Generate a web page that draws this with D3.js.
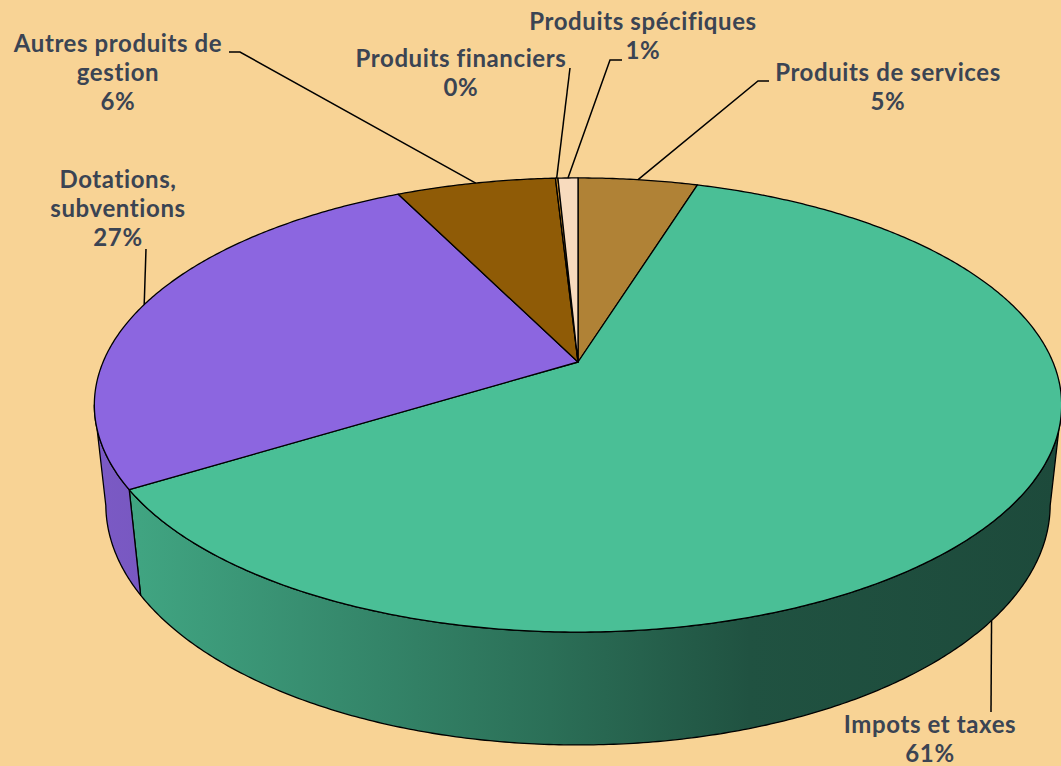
<!DOCTYPE html>
<html>
<head>
<meta charset="utf-8">
<script src="https://cdn.jsdelivr.net/npm/d3@7"></script>
<style>
  body { margin: 0; background: #F8D395; }
  svg { display: block; }
</style>
</head>
<body>
<div id="chart"></div>
<script>
// data (share of revenue, in %, clockwise from 12 o'clock)
const categories = ['Produits de services', 'Impots et taxes', 'Dotations, subventions',
    'Autres produits de gestion', 'Produits financiers', 'Produits spécifiques']
const values = [4.8, 61.4, 26.5, 6.4, 0.1, 0.8]
const labelLines = [['Produits de services'], ['Impots et taxes'], ['Dotations,', 'subventions'],
    ['Autres produits de', 'gestion'], ['Produits financiers'], ['Produits spécifiques']]
const colors = ['#B08236', '#4ABF96', '#8C66E0', '#8F5B06', '#C98A2A', '#F8DBBE']

// label placement: text centre, first baseline, leader start points
const labelPos = [
    {x: 888, y: 81, pts: [[769, 81], [758, 81]]},
    {x: 930, y: 733, pts: [[991, 712]]},
    {x: 118, y: 188, pts: [[146, 249]]},
    {x: 118, y: 52, pts: [[229, 52], [240, 52]]},
    {x: 461, y: 67, pts: [[570, 68]]},
    {x: 643, y: 30, pts: [[622, 60], [610, 60]]},
]

const width = 1061, height = 766

// perspective 3d pie
const cx = 578, cy = 362
const sinP = 0.461, cosP = 0.887
const D = 4.683, F = 2224, depthH = 0.2385

function project(t, z) {
    const x = Math.sin(t), y = Math.cos(t)
    const depth = D + y * cosP - z * sinP
    return [cx + F * x / depth, cy - F * (y * sinP + z * cosP) / depth]
}
function rim(a0, a1, z) {
    const step = Math.PI / 360
    const ts = d3.range(a0, a1, step)
    ts.push(a1)
    return ts.map(t => project(t, z))
}

const svg = d3.select('#chart').append('svg')
    .attr('width', width)
    .attr('height', height)

svg.append('rect')
    .attr('width', width)
    .attr('height', height)
    .attr('fill', '#F8D395')

const pie = d3.pie().sort(null).value(d => d)
const arcs = pie(values)
const line = d3.line()

// side shading by x position
const shade = [[93, 0.88], [140, 0.86], [300, 0.75], [550, 0.58], [750, 0.43], [1061, 0.39]]
const defs = svg.append('defs')
arcs.forEach((d, i) => {
    const base = d3.rgb(colors[i])
    const grad = defs.append('linearGradient')
        .attr('id', `side-${i}`)
        .attr('gradientUnits', 'userSpaceOnUse')
        .attr('x1', 93).attr('x2', 1061)
        .attr('y1', 0).attr('y2', 0)
    shade.forEach(s => {
        grad.append('stop')
            .attr('offset', (s[0] - 93) / (1061 - 93))
            .attr('stop-color', d3.rgb(base.r * s[1], base.g * s[1], base.b * s[1]).formatHex())
    })
})

// visible front wall
const tL = Math.acos(-cosP / D), tR = 2 * Math.PI - tL
const sides = svg.append('g')
arcs.forEach((d, i) => {
    const s0 = Math.max(d.startAngle, tL), s1 = Math.min(d.endAngle, tR)
    if (s1 <= s0) return
    const pts = rim(s0, s1, 0).concat(rim(s0, s1, -depthH).reverse())
    sides.append('path')
        .attr('d', line(pts) + 'Z')
        .attr('fill', `url(#side-${i})`)
        .attr('stroke', '#000')
        .attr('stroke-width', 1.3)
        .attr('stroke-linejoin', 'round')
})

// top face
const tops = svg.append('g')
arcs.forEach((d, i) => {
    const pts = [[cx, cy]].concat(rim(d.startAngle, d.endAngle, 0))
    tops.append('path')
        .attr('d', line(pts) + 'Z')
        .attr('fill', colors[i])
        .attr('stroke', '#000')
        .attr('stroke-width', 1.3)
        .attr('stroke-linejoin', 'round')
})

// leader lines + labels
const total = d3.sum(values)
const fmt = v => Math.round(v / total * 100) + '%'
arcs.forEach((d, i) => {
    const mid = (d.startAngle + d.endAngle) / 2
    const front = Math.cos(mid) < -cosP / D
    const end = project(mid, front ? -depthH : 0)
    const p = labelPos[i]
    svg.append('path')
        .attr('d', line(p.pts.concat([end])))
        .attr('fill', 'none')
        .attr('stroke', '#000')
        .attr('stroke-width', 1.5)

    const txt = svg.append('text')
        .attr('text-anchor', 'middle')
        .attr('font-family', 'Lato, sans-serif')
        .attr('font-weight', 700)
        .attr('font-size', 24)
        .attr('letter-spacing', 0.6)
        .attr('fill', '#3B4453')
    labelLines[i].concat([fmt(values[i])]).forEach((s, j) => {
        txt.append('tspan')
            .attr('x', p.x)
            .attr('y', p.y + j * 29)
            .text(s)
    })
})
</script>
</body>
</html>
